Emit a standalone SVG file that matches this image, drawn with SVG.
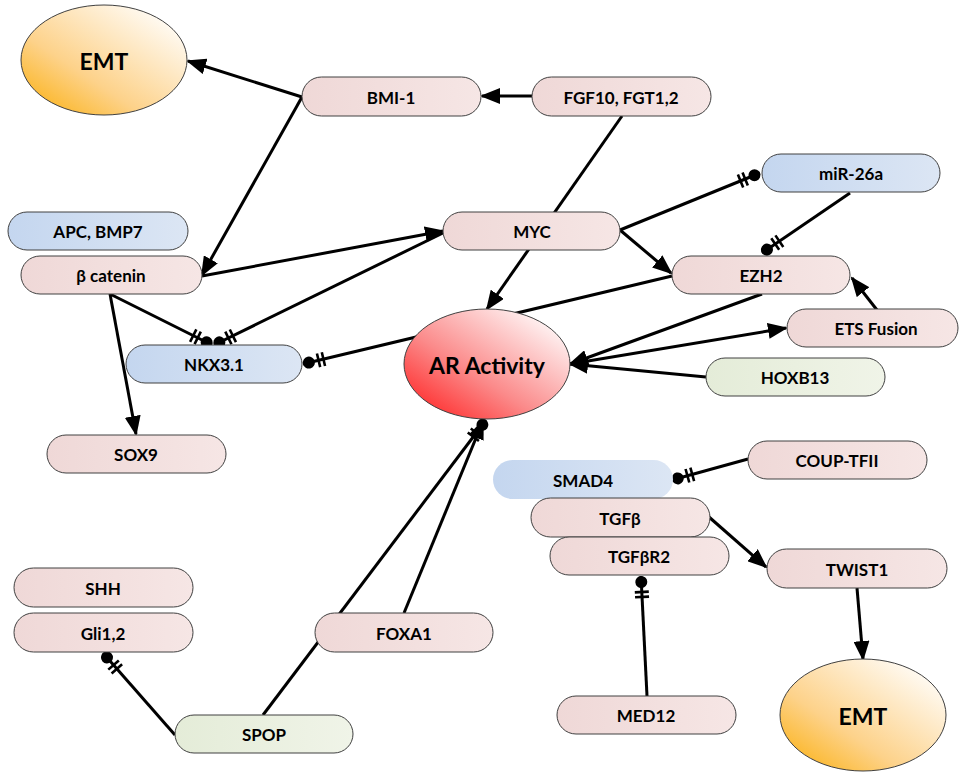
<svg xmlns="http://www.w3.org/2000/svg" width="959" height="772" viewBox="0 0 959 772">
<defs>
<linearGradient id="gPink" x1="0" y1="0" x2="1" y2="0"><stop offset="0" stop-color="#efd8d7"/><stop offset="1" stop-color="#f6e6e5"/></linearGradient>
<linearGradient id="gBlue" x1="0" y1="0" x2="1" y2="0"><stop offset="0" stop-color="#c4d6ef"/><stop offset="1" stop-color="#dce6f4"/></linearGradient>
<linearGradient id="gGreen" x1="0" y1="0" x2="1" y2="0"><stop offset="0" stop-color="#e4ecd8"/><stop offset="1" stop-color="#f0f4e8"/></linearGradient>
<linearGradient id="gOrange" x1="0.1" y1="0.95" x2="0.95" y2="0.1"><stop offset="0" stop-color="#fbb41f"/><stop offset="0.35" stop-color="#fdd28a"/><stop offset="1" stop-color="#ffffff"/></linearGradient>
<linearGradient id="gRed" x1="0.1" y1="0.95" x2="0.95" y2="0.1"><stop offset="0" stop-color="#ff2a2a"/><stop offset="0.4" stop-color="#fb8a8a"/><stop offset="1" stop-color="#ffffff"/></linearGradient>
<marker id="arr" viewBox="0 -8 20 16" refX="18" refY="0" markerWidth="20" markerHeight="16" markerUnits="userSpaceOnUse" orient="auto">
<path d="M0,-8 L20,0 L0,8 z" fill="#000"/>
</marker>
<marker id="inh" viewBox="-30 -9 32 18" refX="0" refY="0" markerWidth="32" markerHeight="18" markerUnits="userSpaceOnUse" orient="auto">
<circle cx="-6" cy="0" r="6" fill="#000"/>
<path d="M-16,-7 L-16,7 M-21,-7 L-21,7" stroke="#000" stroke-width="2.6"/>
</marker>
</defs>
<style>
.n{stroke:#404040;stroke-width:1}
.p{fill:url(#gPink)}
.b{fill:url(#gBlue)}
.g{fill:url(#gGreen)}
.t{font-family:Lato,"Liberation Sans",sans-serif;font-weight:bold;font-size:17px;fill:#000;text-anchor:middle;dominant-baseline:central}
.big{font-size:23px}
.c line{stroke:#000;stroke-width:3;fill:none}
.a{marker-end:url(#arr)}
.i{marker-end:url(#inh)}
</style>
<g class="c" id="connectors">
<line class="a" x1="302" y1="97" x2="188" y2="61"/>
<line class="a" x1="302" y1="97" x2="202" y2="275"/>
<line class="a" x1="532" y1="96" x2="482" y2="96"/>
<line class="a" x1="622" y1="116" x2="487" y2="309"/>
<line class="a" x1="202" y1="276" x2="443" y2="231"/>
<line class="a" x1="110" y1="294" x2="136" y2="434"/>
<line class="i" x1="110" y1="294" x2="212" y2="345"/>
<line class="i" x1="443" y1="233" x2="214" y2="345"/>
<line class="i" x1="672" y1="276" x2="303" y2="364"/>
<line class="a" x1="620" y1="230" x2="671" y2="273"/>
<line class="i" x1="620" y1="230" x2="760" y2="173"/>
<line class="i" x1="850" y1="193" x2="762" y2="253"/>
<line class="a" x1="877" y1="310" x2="852" y2="278"/>
<line class="a" x1="762" y1="294" x2="570" y2="364"/>
<line class="a" x1="570" y1="364" x2="786" y2="328"/>
<line class="a" x1="706" y1="377" x2="570" y2="364"/>
<line class="i" x1="263" y1="715" x2="486" y2="420"/>
<line class="a" x1="404" y1="613" x2="483" y2="421"/>
<line class="i" x1="748" y1="459" x2="672" y2="480"/>
<line class="a" x1="709" y1="517" x2="766" y2="567"/>
<line class="i" x1="647" y1="696" x2="641" y2="576"/>
<line class="a" x1="857" y1="588" x2="863" y2="659"/>
<line class="i" x1="175" y1="735" x2="103" y2="653"/>
</g>
<g id="emt1"><ellipse class="n" cx="104" cy="60" rx="83" ry="55" fill="url(#gOrange)"/><text class="t big" x="104" y="61">EMT</text></g>
<g id="bmi1"><rect class="n p" x="302" y="77" width="179" height="39" rx="19.5"/><text class="t" x="391" y="97">BMI-1</text></g>
<g id="fgf"><rect class="n p" x="532" y="77" width="179" height="39" rx="19.5"/><text class="t" x="621" y="97">FGF10, FGT1,2</text></g>
<g id="myc"><rect class="n p" x="443" y="212" width="177" height="38" rx="19"/><text class="t" x="532" y="231">MYC</text></g>
<g id="mir26a"><rect class="n b" x="762" y="154" width="178" height="38" rx="19"/><text class="t" x="851" y="173">miR-26a</text></g>
<g id="ezh2"><rect class="n p" x="672" y="256" width="178" height="38" rx="19"/><text class="t" x="761" y="275">EZH2</text></g>
<g id="ets"><rect class="n p" x="787" y="309" width="171" height="38" rx="19"/><text class="t" x="876" y="328">ETS Fusion</text></g>
<g id="hoxb13"><rect class="n g" x="706" y="358" width="179" height="38" rx="19"/><text class="t" x="795" y="377">HOXB13</text></g>
<g id="apc"><rect class="n b" x="8" y="212" width="180" height="38" rx="19"/><text class="t" x="98" y="231">APC, BMP7</text></g>
<g id="bcat"><rect class="n p" x="21" y="256" width="181" height="38" rx="19"/><text class="t" x="111" y="275">β catenin</text></g>
<g id="nkx31"><rect class="n b" x="126" y="345" width="176" height="38" rx="19"/><text class="t" x="214" y="364">NKX3.1</text></g>
<g id="sox9"><rect class="n p" x="47" y="435" width="179" height="38" rx="19"/><text class="t" x="136" y="454">SOX9</text></g>
<g id="ar"><ellipse class="n" cx="487" cy="364" rx="83" ry="55" fill="url(#gRed)"/><text class="t big" x="487" y="365">AR Activity</text></g>
<g id="smad4"><rect class="b" x="493" y="460" width="180" height="39" rx="19.5"/><text class="t" x="583" y="480">SMAD4</text></g>
<g id="coup"><rect class="n p" x="748" y="441" width="179" height="38" rx="19"/><text class="t" x="837" y="460">COUP-TFII</text></g>
<g id="tgfb"><rect class="n p" x="531" y="498" width="179" height="39" rx="19.5"/><text class="t" x="620" y="518">TGFβ</text></g>
<g id="tgfbr2"><rect class="n p" x="550" y="537" width="179" height="38" rx="19"/><text class="t" x="639" y="556">TGFβR2</text></g>
<g id="twist1"><rect class="n p" x="767" y="549" width="180" height="39" rx="19.5"/><text class="t" x="857" y="569">TWIST1</text></g>
<g id="med12"><rect class="n p" x="557" y="696" width="179" height="38" rx="19"/><text class="t" x="646" y="715">MED12</text></g>
<g id="emt2"><ellipse class="n" cx="863" cy="715" rx="83" ry="56" fill="url(#gOrange)"/><text class="t big" x="863" y="716">EMT</text></g>
<g id="shh"><rect class="n p" x="14" y="568" width="179" height="39" rx="19.5"/><text class="t" x="103" y="588">SHH</text></g>
<g id="gli"><rect class="n p" x="14" y="613" width="179" height="39" rx="19.5"/><text class="t" x="103" y="633">Gli1,2</text></g>
<g id="foxa1"><rect class="n p" x="315" y="613" width="178" height="39" rx="19.5"/><text class="t" x="404" y="633">FOXA1</text></g>
<g id="spop"><rect class="n g" x="175" y="715" width="178" height="38" rx="19"/><text class="t" x="264" y="734">SPOP</text></g>
</svg>
